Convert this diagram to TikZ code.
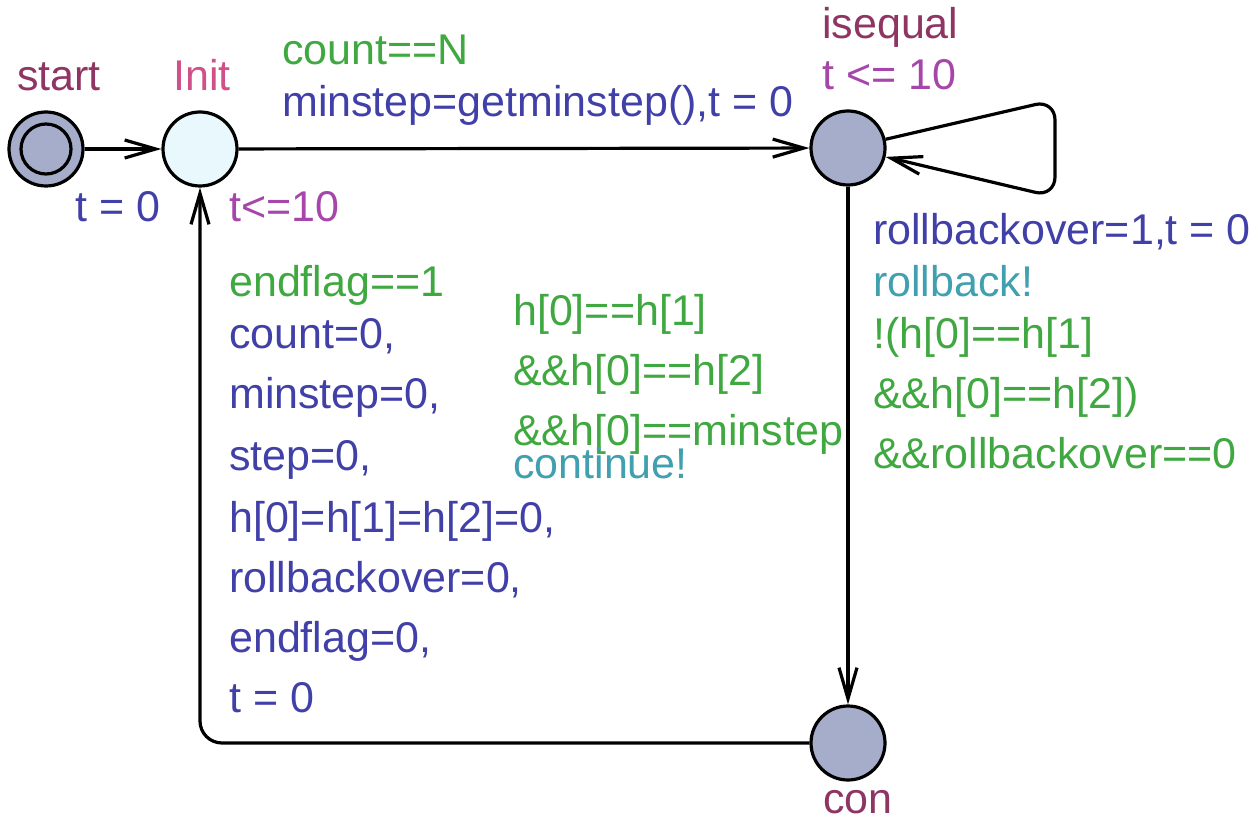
\documentclass[tikz,border=0pt]{standalone}
\usepackage{fontspec}
\setmainfont{Liberation Sans}
\usetikzlibrary{arrows.meta}
\definecolor{locfill}{HTML}{A5ADCB}
\definecolor{initfill}{HTML}{E8F8FC}
\definecolor{namecol}{HTML}{8F3563}
\definecolor{initcol}{HTML}{D0508A}
\definecolor{invcol}{HTML}{A646AA}
\definecolor{assigncol}{HTML}{4040A8}
\definecolor{guardcol}{HTML}{40A840}
\definecolor{synccol}{HTML}{40A0B0}
\begin{document}
\begin{tikzpicture}
        [
            x=1pt, y=-1pt,
            loc/.style={circle, draw, line width=3.2pt, fill=locfill, minimum size=74pt, inner sep=0pt},
            trans/.style={draw, line width=3.2pt, -{Straight Barb[length=31pt, width=18pt]}},
            txt/.style={inner sep=0pt, anchor=base west, font=\fontsize{43}{50}\selectfont},
            locname/.style={txt, text=namecol},
            inv/.style={txt, text=invcol},
            assign/.style={txt, text=assigncol},
            guard/.style={txt, text=guardcol},
            sync/.style={txt, text=synccol},
        ]
            \useasboundingbox (0,0) rectangle (1258,826);

            \node[loc] (Start) at (46,149) {};
            \node[loc, minimum size=50pt] (StartIn) at (Start) {};
            \node[loc, fill=initfill] (Init) at (200,149) {};
            \node[loc] (Isequal) at (848,148) {};
            \node[loc] (Con) at (848,743) {};
            \coordinate (loopA) at (1055,100);
            \coordinate (loopB) at (1055,197);

            \node[locname] (nStart) at (17,91) {start};
            \node[locname, text=initcol] (nInit) at (173,91) {Init};
            \node[locname] (nIsequal) at (822,39) {isequal};
            \node[locname] (nCon) at (823,813) {con};
            \node[inv] (iInit) at (229,222) {t<=10};
            \node[inv] (iIsequal) at (822,90) {t <= 10};

            \draw[trans] (Start) -- (Init);
            \draw[trans] (Init) -- (Isequal);
            \draw[trans, rounded corners=20pt] (Isequal) -- (loopA) -- (loopB) -- (Isequal);
            \draw[trans] (Isequal) -- (Con);
            \draw[trans, rounded corners=22pt] (Con) -| (Init);

            \node[assign] (aStart) at (75,222) {t = 0};

            \node[guard] (gCount) at (282,65) {count==N};
            \node[assign] (aCount) at (282,117) {minstep=getminstep(),t = 0};

            \node[assign] (aRoll) at (873,245) {rollbackover=1,t = 0};
            \node[sync] (sRoll) at (873,297) {rollback!};
            \node[guard] (gRoll1) at (873,348) {!(h[0]==h[1]};
            \node[guard] (gRoll2) at (873,408) {\&\&h[0]==h[2])};
            \node[guard] (gRoll3) at (873,468) {\&\&rollbackover==0};

            \node[guard] (gCont1) at (513,325) {h[0]==h[1]};
            \node[guard] (gCont2) at (513,385) {\&\&h[0]==h[2]};
            \node[guard] (gCont3) at (513,445) {\&\&h[0]==minstep};
            \node[sync] (sCont) at (513,478) {continue!};

            \node[guard] (gEnd) at (229,297) {endflag==1};
            \node[assign] (aEnd1) at (229,348) {count=0,};
            \node[assign] (aEnd2) at (229,408) {minstep=0,};
            \node[assign] (aEnd3) at (229,470) {step=0,};
            \node[assign] (aEnd4) at (229,532) {h[0]=h[1]=h[2]=0,};
            \node[assign] (aEnd5) at (229,592) {rollbackover=0,};
            \node[assign] (aEnd6) at (229,652) {endflag=0,};
            \node[assign] (aEnd7) at (229,712) {t = 0};
        \end{tikzpicture}
\end{document}
